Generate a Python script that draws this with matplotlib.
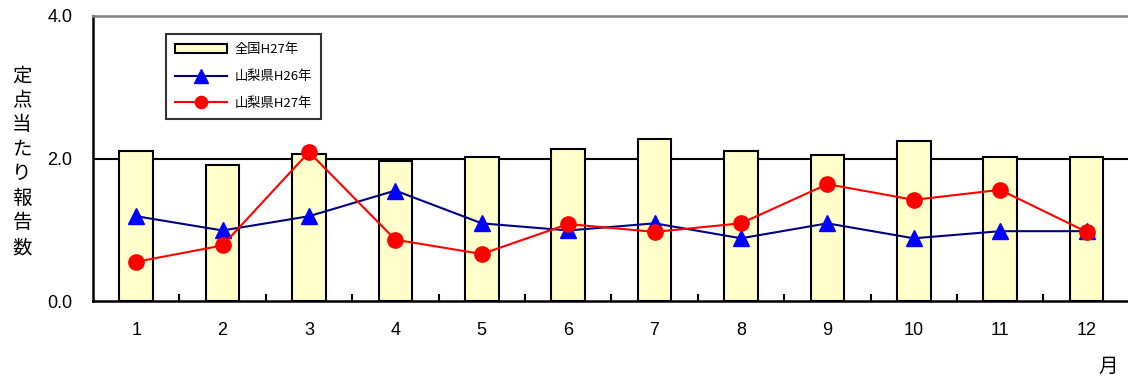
import matplotlib
matplotlib.use("Agg")
import matplotlib.pyplot as plt
from matplotlib.ticker import FixedLocator, NullFormatter

plt.rcParams['font.family'] = ['Liberation Sans', 'Noto Sans CJK JP', 'DejaVu Sans']

months = ["1", "2", "3", "4", "5", "6", "7", "8", "9", "10", "11", "12"]
national_h27 = [2.10, 1.91, 2.06, 1.96, 2.02, 2.13, 2.28, 2.11, 2.05, 2.24, 2.02, 2.02]
yamanashi_h26 = [1.19, 0.99, 1.19, 1.55, 1.09, 0.99, 1.09, 0.88, 1.09, 0.88, 0.98, 0.98]
yamanashi_h27 = [0.55, 0.78, 2.09, 0.86, 0.66, 1.08, 0.97, 1.09, 1.64, 1.42, 1.56, 0.97]

series_labels = ["全国H27年", "山梨県H26年", "山梨県H27年"]
y_ticks = [0.0, 2.0, 4.0]
y_label = "定点当たり報告数"
x_unit = "月"

fig = plt.figure(figsize=(11.28, 3.76), dpi=100)
ax = fig.add_axes([93 / 1128, 75 / 376, 1035 / 1128, 285 / 376])

x = list(range(1, len(months) + 1))

ax.axhline(2.0, color="black", lw=1.5, zorder=1)

bars = ax.bar(x, national_h27, width=0.39, color="#FFFFCC", edgecolor="black",
              linewidth=1.5, zorder=2, label=series_labels[0])
l26, = ax.plot(x, yamanashi_h26, color="#000080", lw=1.5, marker="^", markersize=12,
               markerfacecolor="#0000FF", markeredgecolor="#0000FF", zorder=3,
               label=series_labels[1])
l27, = ax.plot(x, yamanashi_h27, color="#FF0000", lw=1.5, marker="o", markersize=11,
               markerfacecolor="#FF0000", markeredgecolor="#FF0000", zorder=4,
               label=series_labels[2])

ax.set_xlim(0.5, 12.48)
ax.set_ylim(0, 4.0)
ax.set_yticks(y_ticks)
ax.set_yticklabels([f"{v:.1f}" for v in y_ticks])
ax.set_xticks(x)
ax.set_xticklabels(months)
ax.xaxis.set_minor_locator(FixedLocator([i + 0.5 for i in range(1, 12)]))
ax.xaxis.set_minor_formatter(NullFormatter())
ax.tick_params(axis="x", which="major", length=0, pad=15, labelsize=13)
ax.tick_params(axis="x", which="minor", direction="in", length=5, width=1.5)
ax.tick_params(axis="y", length=0, pad=15, labelsize=13)

for side in ("left", "bottom"):
    ax.spines[side].set_linewidth(1.8)
    ax.spines[side].set_color("black")
ax.spines["top"].set_color("#808080")
ax.spines["top"].set_linewidth(1.8)
ax.spines["right"].set_visible(False)

leg = ax.legend(handles=[bars, l26, l27], loc="upper left",
                bbox_to_anchor=(0.0705, 0.937), borderaxespad=0,
                prop={"family": ["Noto Sans CJK JP"], "size": 9.5},
                frameon=True, fancybox=False, edgecolor="black",
                handlelength=3.9, handleheight=0.6, handletextpad=0.6,
                labelspacing=1.05, borderpad=0.7, markerscale=0.8)
leg.get_frame().set_linewidth(1.5)

# vertical y-axis caption, one character per line
for i, ch in enumerate(y_label):
    fig.text(22 / 1128, 1 - (76 + i * 24.5) / 376, ch, ha="center", va="center",
             fontsize=14, family=["Noto Sans CJK JP"])

fig.text(1108 / 1128, 1 - 366 / 376, x_unit, ha="center", va="center",
         fontsize=14, family=["Noto Sans CJK JP"])

fig.savefig("out.png", dpi=100)
